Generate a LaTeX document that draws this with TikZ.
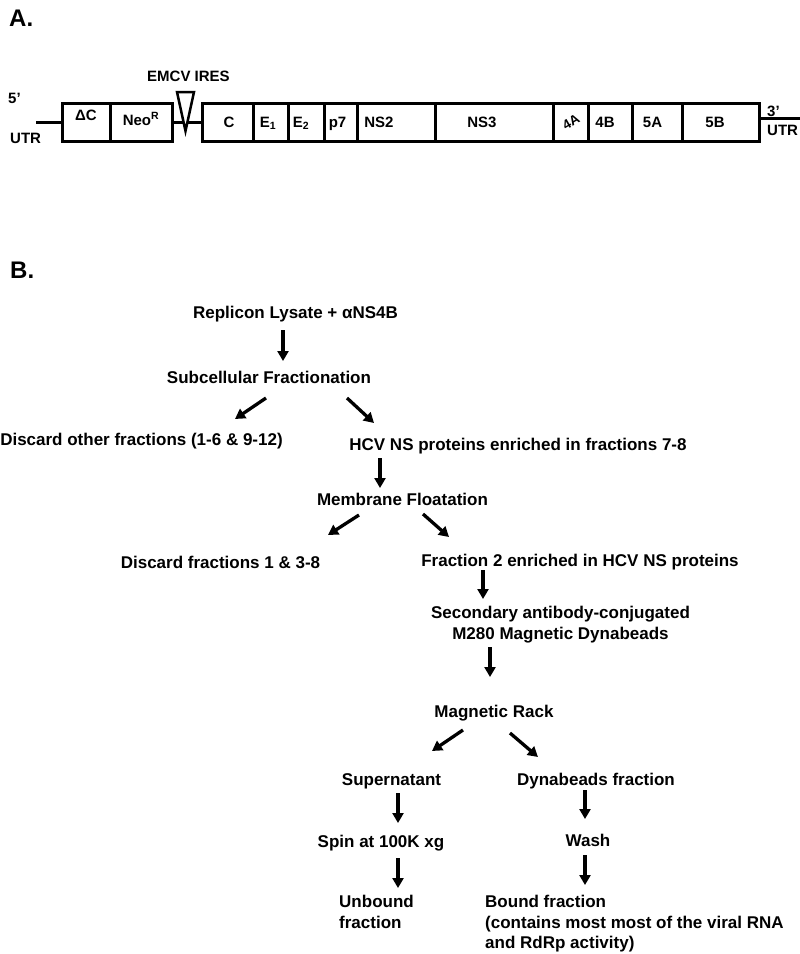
\documentclass[tikz,border=0pt]{standalone}
\usepackage{fontspec}
\setmainfont{Liberation Sans}
\usetikzlibrary{arrows.meta}

\tikzset{
  lbl/.style={inner sep=0pt, anchor=base, font=\fontsize{17}{20.5}\selectfont\bfseries},
  gene/.style={inner sep=0pt, anchor=base, font=\fontsize{15}{18}\selectfont\bfseries},
  head/.style={inner sep=0pt, anchor=base west, font=\fontsize{24}{28}\selectfont\bfseries},
  arr/.style={line width=3.3pt, -{Triangle[length=10pt,width=11pt]}},
  seg/.style={line width=3pt}
}

\begin{document}
\begin{tikzpicture}[x=1pt,y=-1pt]
\useasboundingbox (0,0) rectangle (800,954);

% panel A: replicon map
\node[head] (pA) at (9,26) {A.};
\draw[seg] (36,122) -- (62,122);
\draw[seg] (172,122) -- (202,122);
\draw[seg] (759,118) -- (800,118);
\draw[seg] (62,103) rectangle (172,141);
\draw[seg] (110,103) -- (110,141);
\draw[seg] (202,103) rectangle (759,141);
\foreach \x in {253,288,324,357,435,553,588,632,682}
  \draw[seg] (\x,103) -- (\x,141);
\draw[line width=2.5pt, fill=white, line join=miter] (177,92) -- (194,92) -- (185.5,131) -- cycle;

\node[gene] (ires) at (188.5,81) {EMCV IRES};
\node[gene, anchor=base west] (p5) at (8,103) {5’};
\node[gene, anchor=base west] (utr5) at (10,143) {UTR};
\node[gene, anchor=base west] (p3) at (767,116) {3’};
\node[gene, anchor=base west] (utr3) at (767,135) {UTR};
\node[gene] (dC) at (86,120) {ΔC};
\node[gene] (neo) at (141,125) {Neo\textsuperscript{R}};
\node[gene] (gC) at (229,127) {C};
\node[gene] (gE1) at (268,127) {E\textsubscript{1}};
\node[gene] (gE2) at (301,127) {E\textsubscript{2}};
\node[gene] (gp7) at (337.5,127) {p7};
\node[gene] (ns2) at (379,127) {NS2};
\node[gene] (ns3) at (482,127) {NS3};
\node[gene, anchor=center, rotate=30, font=\fontsize{13.5}{16}\selectfont\bfseries] (g4A) at (571,122) {4A};
\node[gene] (g4B) at (605,127) {4B};
\node[gene] (g5A) at (652.5,127) {5A};
\node[gene] (g5B) at (715,127) {5B};

% panel B: purification scheme
\node[head] (pB) at (10,278) {B.};
\node[lbl] (lys) at (295.5,318) {Replicon Lysate + αNS4B};
\node[lbl] (subf) at (269,383) {Subcellular Fractionation};
\node[lbl] (disc1) at (141.5,445) {Discard other fractions (1-6 \& 9-12)};
\node[lbl] (hcv) at (518,450) {HCV NS proteins enriched in fractions 7-8};
\node[lbl] (memb) at (402.5,505) {Membrane Floatation};
\node[lbl] (disc2) at (220.5,568) {Discard fractions 1 \& 3-8};
\node[lbl] (frac2) at (580,566) {Fraction 2 enriched in HCV NS proteins};
\node[lbl, anchor=north, align=center] (beads) at (560.5,606) {Secondary antibody-conjugated\\M280 Magnetic Dynabeads};
\node[lbl] (rack) at (494,717) {Magnetic Rack};
\node[lbl] (sup) at (391.5,785) {Supernatant};
\node[lbl] (dyn) at (596,785) {Dynabeads fraction};
\node[lbl] (spin) at (381,847) {Spin at 100K xg};
\node[lbl] (wash) at (588,846) {Wash};
\node[lbl, anchor=north west, align=left] (unb) at (339,895) {Unbound\\fraction};
\node[lbl, anchor=north west, align=left] (bnd) at (485,895) {Bound fraction\\(contains most most of the viral RNA\\and RdRp activity)};

% arrow ends
\coordinate (lys-o) at (283,330);   \coordinate (subf-i) at (283,361);
\coordinate (subf-l) at (266,398);  \coordinate (disc1-i) at (235,419);
\coordinate (subf-r) at (347,398);  \coordinate (hcv-i) at (374,423);
\coordinate (hcv-o) at (380,458);   \coordinate (memb-i) at (380,488);
\coordinate (memb-l) at (359,515);  \coordinate (disc2-i) at (328,535);
\coordinate (memb-r) at (423,514);  \coordinate (frac2-i) at (449,537);
\coordinate (frac2-o) at (483,570); \coordinate (beads-i) at (483,599);
\coordinate (beads-o) at (490,647); \coordinate (rack-i) at (490,677);
\coordinate (rack-l) at (463,730);  \coordinate (sup-i) at (432,751);
\coordinate (rack-r) at (510,733);  \coordinate (dyn-i) at (538,757);
\coordinate (sup-o) at (398,793);   \coordinate (spin-i) at (398,823);
\coordinate (spin-o) at (398,858);  \coordinate (unb-i) at (398,888);
\coordinate (dyn-o) at (585,790);   \coordinate (wash-i) at (585,819);
\coordinate (wash-o) at (585,855);  \coordinate (bnd-i) at (585,885);

\draw[arr] (lys-o) -- (subf-i);
\draw[arr] (subf-l) -- (disc1-i);
\draw[arr] (subf-r) -- (hcv-i);
\draw[arr] (hcv-o) -- (memb-i);
\draw[arr] (memb-l) -- (disc2-i);
\draw[arr] (memb-r) -- (frac2-i);
\draw[arr] (frac2-o) -- (beads-i);
\draw[arr] (beads-o) -- (rack-i);
\draw[arr] (rack-l) -- (sup-i);
\draw[arr] (rack-r) -- (dyn-i);
\draw[arr] (sup-o) -- (spin-i);
\draw[arr] (spin-o) -- (unb-i);
\draw[arr] (dyn-o) -- (wash-i);
\draw[arr] (wash-o) -- (bnd-i);
\end{tikzpicture}
\end{document}
